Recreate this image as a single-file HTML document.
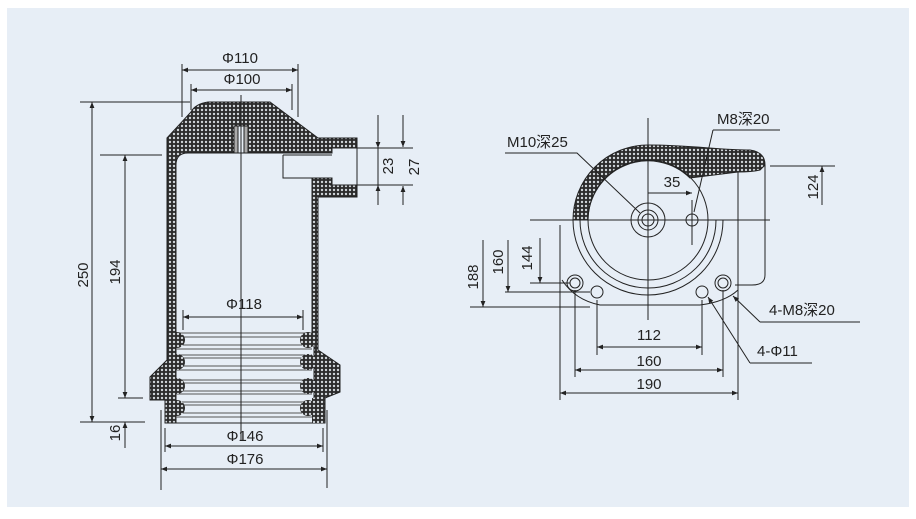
<!DOCTYPE html>
<html><head><meta charset="utf-8"><style>
html,body{margin:0;padding:0;background:#fff;}
svg{display:block;}
text{font-family:"Liberation Sans","Noto Sans CJK SC",sans-serif;font-size:15px;fill:#222;}
</style></head><body>
<svg width="916" height="519" viewBox="0 0 916 519" xmlns="http://www.w3.org/2000/svg">
<defs>
<pattern id="h" width="4" height="4" patternUnits="userSpaceOnUse">
<rect width="4" height="4" fill="#2b2b2b"/><circle cx="2" cy="2" r="1.2" fill="#cfd4d8"/>
</pattern>
<marker id="a" viewBox="0 0 10 10" refX="10" refY="5" markerWidth="8" markerHeight="6" orient="auto-start-reverse"><path d="M0,1 L10,5 L0,9 Z" fill="#222"/></marker>
</defs>
<rect x="7" y="8" width="902" height="499" fill="#e7eef6"/>
<g stroke="#222" stroke-width="1" fill="none">
<path d="M191,112 Q195,104 208,102 L270,102 L318,138 L357,138 L357,197 L318,197 L318,350 L340,365 L340,392 L325,398 L325,423 L165,423 L165,400 L150,400 L150,377 L162,365 L167,360 L167,138 Z" fill="url(#h)"/>
<path d="M176,165 Q176,153 188,153 L332,153 L332,148 L357,148 L357,185 L332,185 L332,178 L312,178 L312,340 L314,340 L314,423 L176,423 Z" fill="#e7eef6"/>
<rect x="234" y="126" width="14" height="27" fill="#aaa"/>
<rect x="238" y="126" width="6" height="27" fill="#e7eef6"/>
<path d="M283,155 L283,178 L312,178 M283,155 L332,155"/>
<g stroke="#555">
<path d="M176,333H312M176,337H312M176,345H312M176,349H312M176,355H312M176,358H312M176,366H312M176,370H312M176,380H312M176,383H312M176,391H312M176,394H312M176,402H312M176,405H312M176,413H312M176,417H312"/>
</g>
<g fill="url(#h)" stroke="none">
<circle cx="177" cy="340" r="8"/><circle cx="177" cy="362" r="8"/><circle cx="177" cy="386" r="8"/><circle cx="177" cy="408" r="8"/>
<circle cx="308" cy="340" r="8"/><circle cx="308" cy="362" r="8"/><circle cx="308" cy="386" r="8"/><circle cx="308" cy="408" r="8"/>
<rect x="312" y="398" width="13" height="25"/>
</g>
<line x1="241" y1="95" x2="241" y2="440"/>
<path d="M182,64V117M298,64V117M191,84V110M292,84V110"/>
<line x1="182" y1="70" x2="298" y2="70" marker-start="url(#a)" marker-end="url(#a)"/>
<line x1="191" y1="90" x2="292" y2="90" marker-start="url(#a)" marker-end="url(#a)"/>
<path d="M80,102H190M100,155H162M80,422H145M118,398H143"/>
<line x1="92" y1="102" x2="92" y2="422" marker-start="url(#a)" marker-end="url(#a)"/>
<line x1="125" y1="155" x2="125" y2="398" marker-start="url(#a)" marker-end="url(#a)"/>
<line x1="125" y1="448" x2="125" y2="422" marker-end="url(#a)"/>
<line x1="183" y1="317" x2="303" y2="317" marker-start="url(#a)" marker-end="url(#a)"/>
<path d="M183,310V330M303,310V330M165,428V452M323,428V452M161,410V490M327,410V488"/>
<line x1="165" y1="446" x2="323" y2="446" marker-start="url(#a)" marker-end="url(#a)"/>
<line x1="161" y1="469" x2="327" y2="469" marker-start="url(#a)" marker-end="url(#a)"/>
<path d="M330,148H413M330,185H413"/>
<line x1="378" y1="115" x2="378" y2="148" marker-end="url(#a)"/>
<line x1="378" y1="205" x2="378" y2="185" marker-end="url(#a)"/>
<line x1="403" y1="115" x2="403" y2="147" marker-end="url(#a)"/>
<line x1="403" y1="205" x2="403" y2="186" marker-end="url(#a)"/>
<line x1="378" y1="148" x2="378" y2="185"/>
<path d="M573,220 A75,75 0 0 1 648,145 C690,145 720,150 750,150 Q765,152 765,165 L760,170 Q752,172 738,172 L690,178 A60,60 0 0 0 588,220 Z" fill="url(#h)"/>
<circle cx="648" cy="220" r="60"/>
<path d="M765,165 V275 Q765,285 752,285 H735 M738,172 V290"/>
<path d="M573,220 A75,75 0 0 0 723,220 L716,220 A68,68 0 0 1 580,220"/>
<path d="M562,280 Q575,300 600,305 L700,305 Q725,302 738,290"/>
<circle cx="648" cy="220" r="17"/><circle cx="648" cy="220" r="10"/><circle cx="648" cy="220" r="6"/>
<circle cx="692" cy="220" r="6"/>
<circle cx="575" cy="283" r="8"/><circle cx="575" cy="283" r="5"/>
<circle cx="723" cy="283" r="8"/><circle cx="723" cy="283" r="5"/>
<circle cx="597" cy="292" r="6"/><circle cx="702" cy="292" r="6"/>
<path d="M530,220H770M648,118V320M692,200V245"/>
<line x1="648" y1="193" x2="692" y2="193" marker-end="url(#a)"/>
<path d="M505,153H577L640,213M713,130H780M713,130L694,212"/>
<path d="M770,166H835"/>
<line x1="822" y1="205" x2="822" y2="166" marker-end="url(#a)"/>
<path d="M530,283H570M505,292H590M470,307H590"/>
<line x1="483" y1="240" x2="483" y2="307" marker-end="url(#a)"/>
<line x1="508" y1="240" x2="508" y2="292" marker-end="url(#a)"/>
<line x1="540" y1="238" x2="540" y2="283" marker-end="url(#a)"/>
<path d="M560,225V400M738,225V400M575,290V377M723,290V377M597,300V355M702,300V355"/>
<line x1="597" y1="347" x2="702" y2="347" marker-start="url(#a)" marker-end="url(#a)"/>
<line x1="575" y1="370" x2="723" y2="370" marker-start="url(#a)" marker-end="url(#a)"/>
<line x1="560" y1="393" x2="738" y2="393" marker-start="url(#a)" marker-end="url(#a)"/>
<path d="M760,322H860M750,363H812"/>
<line x1="760" y1="322" x2="733" y2="296" marker-end="url(#a)"/>
<line x1="750" y1="363" x2="708" y2="297" marker-end="url(#a)"/>
</g>
<g text-anchor="middle">
<text x="240" y="63">Φ110</text>
<text x="242" y="84">Φ100</text>
<text x="244" y="309">Φ118</text>
<text x="245" y="441">Φ146</text>
<text x="245" y="464">Φ176</text>
<text transform="translate(88,275) rotate(-90)">250</text>
<text transform="translate(120,272) rotate(-90)">194</text>
<text transform="translate(120,433) rotate(-90)">16</text>
<text transform="translate(393,166) rotate(-90)">23</text>
<text transform="translate(419,167) rotate(-90)">27</text>
<text x="672" y="187">35</text>
<text x="649" y="340">112</text>
<text x="649" y="366">160</text>
<text x="649" y="389">190</text>
<text transform="translate(818,187) rotate(-90)">124</text>
<text transform="translate(478,277) rotate(-90)">188</text>
<text transform="translate(503,262) rotate(-90)">160</text>
<text transform="translate(532,258) rotate(-90)">144</text>
</g>
<text x="507" y="147">M10深25</text>
<text x="717" y="124">M8深20</text>
<text x="769" y="315">4-M8深20</text>
<text x="757" y="356">4-Φ11</text>
</svg>
</body></html>
